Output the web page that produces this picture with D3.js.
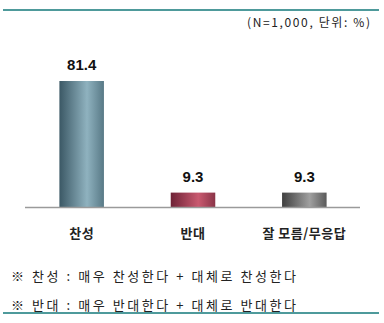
<!DOCTYPE html>
<html>
<head>
<meta charset="utf-8">
<script src="https://cdn.jsdelivr.net/npm/d3@7"></script>
<style>
  body { margin: 0; background: #fff; }
  svg { display: block; font-family: "Noto Sans CJK KR", "Liberation Sans", sans-serif; }
</style>
</head>
<body>
<svg width="384" height="323"></svg>
<script>
var categories = ["찬성", "반대", "잘 모름/무응답"];
var values = [81.4, 9.3, 9.3];
var barColors = [
  ["#3b5865", "#8fb2bf", "#587986"],
  ["#6e2236", "#c95a70", "#8a3448"],
  ["#3f3f3f", "#a0a0a0", "#5a5a5a"]
];
var notes = [
  "※ 찬성 : 매우 찬성한다 + 대체로 찬성한다",
  "※ 반대 : 매우 반대한다 + 대체로 반대한다"
];
var subtitle = "(N=1,000, 단위: %)";

var svg = d3.select("svg");

// frame lines
svg.append("line")
  .attr("x1", 3).attr("x2", 379).attr("y1", 10).attr("y2", 10)
  .attr("stroke", "#4e9a9b").attr("stroke-width", 2);
svg.append("line")
  .attr("x1", 3).attr("x2", 379).attr("y1", 313).attr("y2", 313)
  .attr("stroke", "#4e9a9b").attr("stroke-width", 2);

svg.append("text")
  .attr("x", 247).attr("y", 27)
  .attr("font-size", 12)
  .attr("fill", "#222")
  .attr("textLength", 123)
  .attr("lengthAdjust", "spacing")
  .text(subtitle);

var x = d3.scaleBand()
  .domain(categories)
  .range([26, 360])
  .paddingInner(0.6)
  .paddingOuter(0.3);

var y = d3.scaleLinear()
  .domain([0, 81.4])
  .range([207, 81]);

var defs = svg.append("defs");
barColors.forEach(function(c, i) {
  var g = defs.append("linearGradient")
    .attr("id", "grad" + i)
    .attr("x1", "0%").attr("x2", "100%")
    .attr("y1", "0%").attr("y2", "0%");
  g.append("stop").attr("offset", "0%").attr("stop-color", c[0]);
  g.append("stop").attr("offset", "62%").attr("stop-color", c[1]);
  g.append("stop").attr("offset", "100%").attr("stop-color", c[2]);
});

svg.selectAll(".bar")
  .data(values)
  .enter()
  .append("rect")
  .attr("class", "bar")
  .attr("x", function(d, i) { return x(categories[i]); })
  .attr("y", function(d) { return y(d); })
  .attr("width", x.bandwidth())
  .attr("height", function(d) { return y(0) - y(d); })
  .attr("fill", function(d, i) { return "url(#grad" + i + ")"; });

// axis line
svg.append("line")
  .attr("x1", 25).attr("x2", 360)
  .attr("y1", y(0) + 0.5).attr("y2", y(0) + 0.5)
  .attr("stroke", "#9a9a9a").attr("stroke-width", 1.5);

svg.selectAll(".val")
  .data(values)
  .enter()
  .append("text")
  .attr("class", "val")
  .attr("x", function(d, i) { return x(categories[i]) + x.bandwidth() / 2; })
  .attr("y", function(d) { return y(d) - 11; })
  .attr("text-anchor", "middle")
  .attr("font-family", "Liberation Sans, Arial, sans-serif")
  .attr("font-weight", "bold")
  .attr("font-size", 15)
  .attr("fill", "#111")
  .text(function(d) { return d.toFixed(1); });

svg.selectAll(".cat")
  .data(categories)
  .enter()
  .append("text")
  .attr("class", "cat")
  .attr("x", function(d) { return x(d) + x.bandwidth() / 2; })
  .attr("y", 238)
  .attr("text-anchor", "middle")
  .attr("font-weight", "bold")
  .attr("font-size", 13)
  .attr("letter-spacing", 0.5)
  .attr("fill", "#222")
  .text(function(d) { return d; });

svg.selectAll(".note")
  .data(notes)
  .enter()
  .append("text")
  .attr("class", "note")
  .attr("x", 11)
  .attr("y", function(d, i) { return 281 + i * 29; })
  .attr("font-size", 13)
  .attr("fill", "#222")
  .attr("textLength", 285)
  .attr("lengthAdjust", "spacing")
  .text(function(d) { return d; });
</script>
</body>
</html>
